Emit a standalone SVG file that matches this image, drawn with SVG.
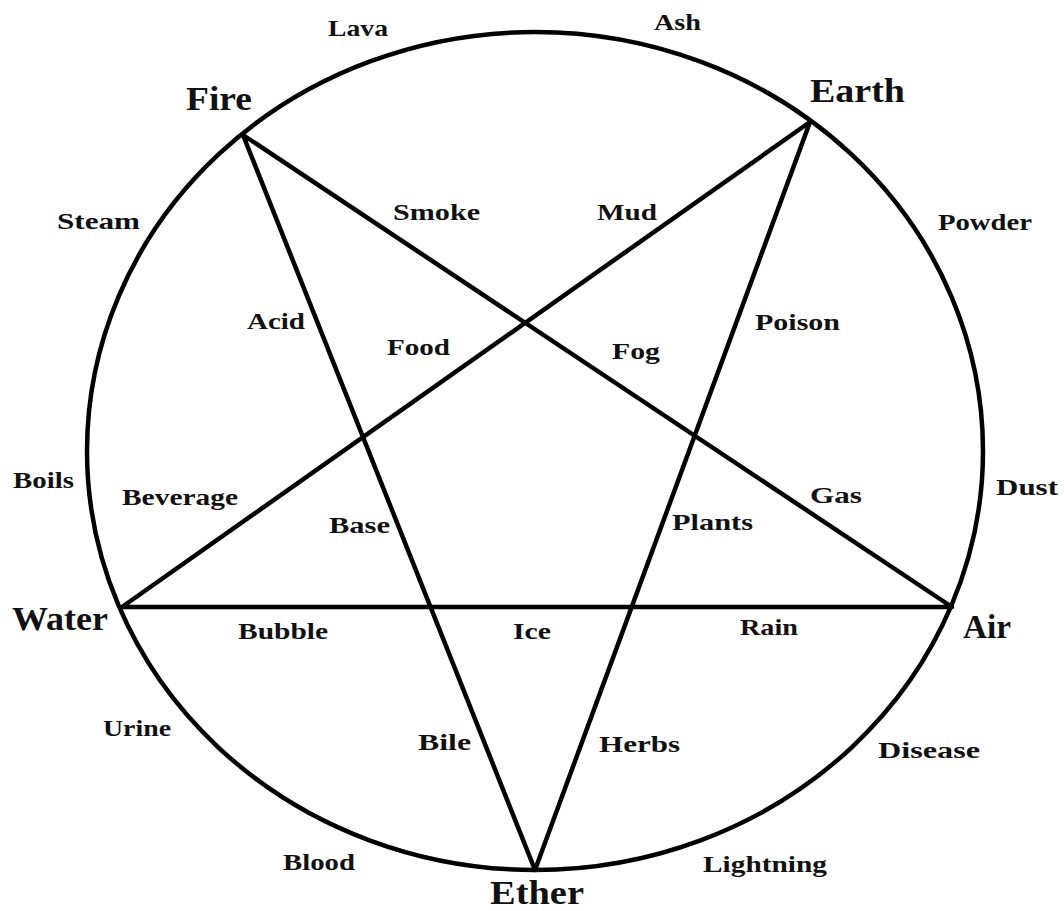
<svg xmlns="http://www.w3.org/2000/svg" width="1064" height="911" viewBox="0 0 1064 911">
<style>
.s{font-family:"Liberation Serif","Times New Roman",serif;font-weight:bold;font-size:24px;fill:#111}
.b{font-family:"Liberation Serif","Times New Roman",serif;font-weight:bold;font-size:34px;fill:#111}
.ln{stroke:#000;stroke-width:4.5;fill:none;stroke-linejoin:round}
</style>
<rect width="1064" height="911" fill="#fff"/>
<g id="circle"><ellipse class="ln" cx="535" cy="451" rx="448" ry="419"/></g>
<g id="connectors">
<polyline class="ln" points="243,135 535,870 810,122 122,607 952,607 243,135"/>
</g>
<g id="vertex-fire"><text class="b" x="186" y="110" textLength="66" lengthAdjust="spacingAndGlyphs">Fire</text></g>
<g id="vertex-earth"><text class="b" x="810" y="102" textLength="95" lengthAdjust="spacingAndGlyphs">Earth</text></g>
<g id="vertex-water"><text class="b" x="12" y="630" textLength="96" lengthAdjust="spacingAndGlyphs">Water</text></g>
<g id="vertex-air"><text class="b" x="963" y="638" textLength="48" lengthAdjust="spacingAndGlyphs">Air</text></g>
<g id="vertex-ether"><text class="b" x="490" y="904" textLength="94" lengthAdjust="spacingAndGlyphs">Ether</text></g>
<g id="labels">
<text class="s" x="328" y="36" textLength="60" lengthAdjust="spacingAndGlyphs">Lava</text>
<text class="s" x="654" y="30" textLength="47" lengthAdjust="spacingAndGlyphs">Ash</text>
<text class="s" x="57" y="229" textLength="83" lengthAdjust="spacingAndGlyphs">Steam</text>
<text class="s" x="393" y="220" textLength="87" lengthAdjust="spacingAndGlyphs">Smoke</text>
<text class="s" x="597" y="220" textLength="60" lengthAdjust="spacingAndGlyphs">Mud</text>
<text class="s" x="938" y="230" textLength="94" lengthAdjust="spacingAndGlyphs">Powder</text>
<text class="s" x="247" y="329" textLength="58" lengthAdjust="spacingAndGlyphs">Acid</text>
<text class="s" x="387" y="355" textLength="63" lengthAdjust="spacingAndGlyphs">Food</text>
<text class="s" x="755" y="330" textLength="85" lengthAdjust="spacingAndGlyphs">Poison</text>
<text class="s" x="612" y="359" textLength="48" lengthAdjust="spacingAndGlyphs">Fog</text>
<text class="s" x="13" y="488" textLength="61" lengthAdjust="spacingAndGlyphs">Boils</text>
<text class="s" x="122" y="505" textLength="116" lengthAdjust="spacingAndGlyphs">Beverage</text>
<text class="s" x="329" y="533" textLength="61" lengthAdjust="spacingAndGlyphs">Base</text>
<text class="s" x="672" y="530" textLength="81" lengthAdjust="spacingAndGlyphs">Plants</text>
<text class="s" x="810" y="503" textLength="52" lengthAdjust="spacingAndGlyphs">Gas</text>
<text class="s" x="996" y="495" textLength="62" lengthAdjust="spacingAndGlyphs">Dust</text>
<text class="s" x="238" y="639" textLength="90" lengthAdjust="spacingAndGlyphs">Bubble</text>
<text class="s" x="513" y="639" textLength="38" lengthAdjust="spacingAndGlyphs">Ice</text>
<text class="s" x="740" y="635" textLength="58" lengthAdjust="spacingAndGlyphs">Rain</text>
<text class="s" x="103" y="736" textLength="68" lengthAdjust="spacingAndGlyphs">Urine</text>
<text class="s" x="418" y="750" textLength="53" lengthAdjust="spacingAndGlyphs">Bile</text>
<text class="s" x="599" y="752" textLength="81" lengthAdjust="spacingAndGlyphs">Herbs</text>
<text class="s" x="878" y="758" textLength="102" lengthAdjust="spacingAndGlyphs">Disease</text>
<text class="s" x="283" y="870" textLength="72" lengthAdjust="spacingAndGlyphs">Blood</text>
<text class="s" x="703" y="872" textLength="124" lengthAdjust="spacingAndGlyphs">Lightning</text>
</g>
</svg>
